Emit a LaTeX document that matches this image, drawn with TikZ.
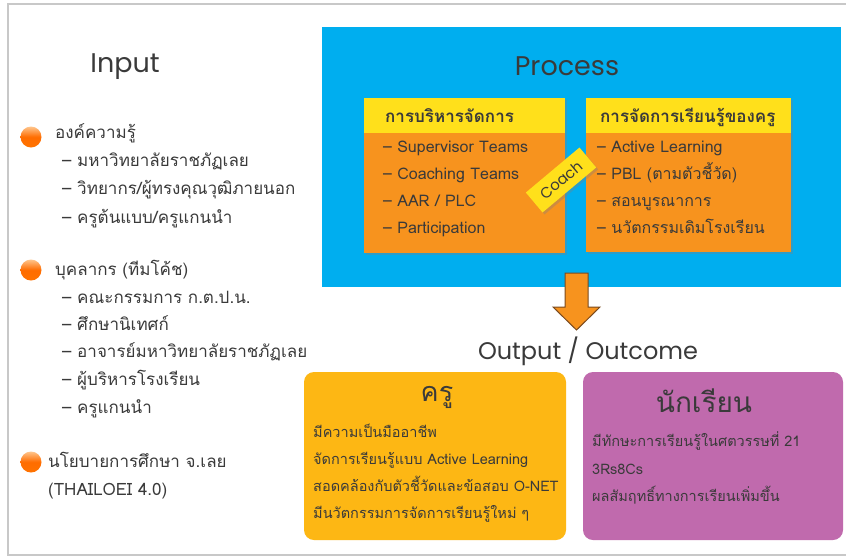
\documentclass[tikz,border=0pt]{standalone}
\usepackage{fontspec}
\setmainfont[Script=Thai]{Loma}
\newfontfamily\titlefont{Poppins}
\usetikzlibrary{shadows}
\definecolor{procblue}{HTML}{00AEEF}
\definecolor{hdryellow}{HTML}{FFE01B}
\definecolor{boxorange}{HTML}{F7931E}
\definecolor{outyellow}{HTML}{FDB714}
\definecolor{outpurple}{HTML}{C06AAD}
\definecolor{txtgray}{HTML}{3A3A3A}
\definecolor{arrbrown}{HTML}{7A4A1E}
\definecolor{framegray}{HTML}{C8C8C8}
\tikzset{
  bigtitle/.style={font=\titlefont\fontsize{27}{30}\selectfont, text=txtgray},
  inmain/.style={anchor=base west, font=\fontsize{17}{19}\selectfont, text=txtgray, inner sep=0pt},
  initem/.style={anchor=base west, font=\fontsize{17}{19}\selectfont, text=txtgray, inner sep=0pt},
  bulletdot/.style={circle, minimum size=21pt, inner sep=0pt, top color=orange!45, bottom color=orange!90!red, middle color=orange!85!red},
  bodybox/.style={fill=boxorange, draw=none, drop shadow={opacity=0.35, shadow xshift=2pt, shadow yshift=-2pt}},
  hdrtext/.style={anchor=base west, font=\bfseries\fontsize{17}{19}\selectfont, text=txtgray, inner sep=0pt},
  procitem/.style={anchor=base west, font=\fontsize{16}{18}\selectfont, text=txtgray, inner sep=0pt},
  outtext/.style={anchor=base west, font=\fontsize{14.5}{16}\selectfont, text=txtgray, inner sep=0pt},
}
\begin{document}
\begin{tikzpicture}[x=1pt,y=-1pt]
\useasboundingbox (0,0) rectangle (846,558);
\fill[white] (0,0) rectangle (846,558);
% frame
\draw[framegray, line width=1.5pt] (846,4) -- (8,4) -- (8,555) -- (846,555);

% ===== Input =====
\node[bigtitle] (intitle) at (125,67) {Input};

\node[bulletdot] (b1) at (31,137) {};
\node[inmain] (k1) at (55,138) {องค์ความรู้};
\node[initem] (k1a) at (62,166) {– มหาวิทยาลัยราชภัฏเลย};
\node[initem] (k1b) at (62,194) {– วิทยากร/ผู้ทรงคุณวุฒิภายนอก};
\node[initem] (k1c) at (62,223) {– ครูต้นแบบ/ครูแกนนำ};

\node[bulletdot] (b2) at (31,270) {};
\node[inmain] (k2) at (55,275) {บุคลากร (ทีมโค้ช)};
\node[initem] (k2a) at (62,303) {– คณะกรรมการ ก.ต.ป.น.};
\node[initem] (k2b) at (62,330) {– ศึกษานิเทศก์};
\node[initem] (k2c) at (62,357) {– อาจารย์มหาวิทยาลัยราชภัฏเลย};
\node[initem] (k2d) at (62,385) {– ผู้บริหารโรงเรียน};
\node[initem] (k2e) at (62,413) {– ครูแกนนำ};

\node[bulletdot] (b3) at (31,462) {};
\node[inmain] (k3) at (48,467) {นโยบายการศึกษา จ.เลย};
\node[inmain] (k3b) at (48,495) {(THAILOEI 4.0)};

% ===== Process =====
\fill[procblue] (322,27) rectangle (841,287);
\node[bigtitle] (proctitle) at (567,66) {Process};

% left box
\path[bodybox] (364,98) rectangle (565,253);
\fill[hdryellow] (364,98) rectangle (565,133);
\node[hdrtext] (lh) at (385,122) {การบริหารจัดการ};
\node[procitem] (l1) at (383,152) {– Supervisor Teams};
\node[procitem] (l2) at (383,179) {– Coaching Teams};
\node[procitem] (l3) at (383,206) {– AAR / PLC};
\node[procitem] (l4) at (383,233) {– Participation};

% right box
\path[bodybox] (586,98) rectangle (791,252);
\fill[hdryellow] (586,98) rectangle (791,133);
\node[hdrtext] (rh) at (600,122) {การจัดการเรียนรู้ของครู};
\node[procitem] (r1) at (597,152) {– Active Learning};
\node[procitem] (r2) at (597,179) {– PBL (ตามตัวชี้วัด)};
\node[procitem] (r3) at (597,206) {– สอนบูรณาการ};
\node[procitem] (r4) at (597,233) {– นวัตกรรมเดิมโรงเรียน};

% coach tag
\node[fill=hdryellow, rotate=40, minimum width=70pt, minimum height=26pt, inner sep=0pt,
      font=\titlefont\fontsize{15}{17}\selectfont, text=txtgray,
      drop shadow={opacity=0.35, shadow xshift=2pt, shadow yshift=-2pt}] (coach) at (561,180) {Coach};

% arrow
\draw[arrbrown, line width=1pt, fill=boxorange, line join=miter]
  (565,273) -- (588,273) -- (588,307) -- (600,307) -- (576.5,330) -- (553,307) -- (565,307) -- cycle;

% ===== Output =====
\node[font=\titlefont\fontsize{24}{27}\selectfont, text=txtgray] (outtitle) at (588,351) {Output / Outcome};

\fill[outyellow, rounded corners=10pt] (304,372) rectangle (566,540);
\node[font=\fontsize{27}{29}\selectfont, text=txtgray] (kru) at (437,397) {ครู};
\node[outtext] (o1) at (313,437) {มีความเป็นมืออาชีพ};
\node[outtext] (o2) at (313,464) {จัดการเรียนรู้แบบ Active Learning};
\node[outtext] (o3) at (313,491) {สอดคล้องกับตัวชี้วัดและข้อสอบ O-NET};
\node[outtext] (o4) at (313,518) {มีนวัตกรรมการจัดการเรียนรู้ใหม่ ๆ};

\fill[outpurple, rounded corners=10pt] (583,372) rectangle (843,540);
\node[font=\fontsize{28}{30}\selectfont, text=txtgray] (nak) at (704,401) {นักเรียน};
\node[outtext] (s1) at (592,446) {มีทักษะการเรียนรู้ในศตวรรษที่ 21};
\node[outtext] (s2) at (592,474) {3Rs8Cs};
\node[outtext] (s3) at (592,501) {ผลสัมฤทธิ์ทางการเรียนเพิ่มขึ้น};
\end{tikzpicture}
\end{document}
